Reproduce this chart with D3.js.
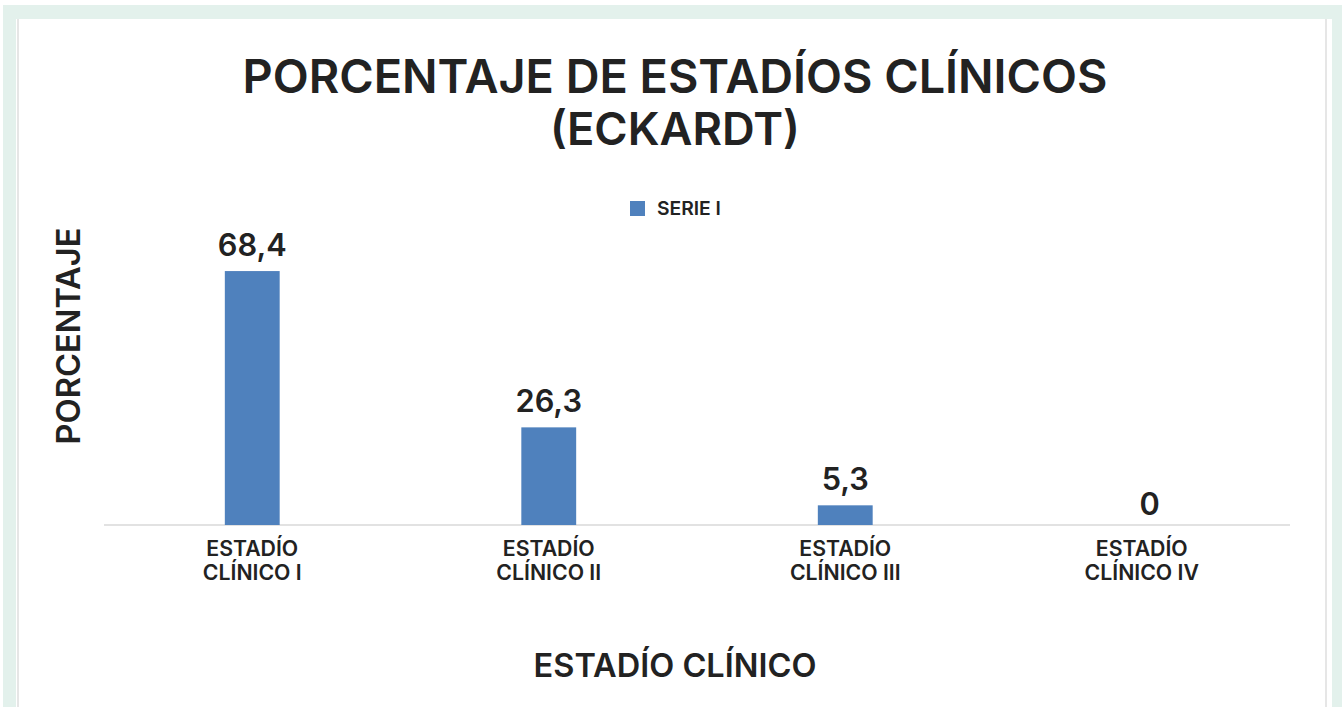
<!DOCTYPE html>
<html>
<head>
<meta charset="utf-8">
<script src="https://cdn.jsdelivr.net/npm/d3@7"></script>
<style>
  html, body { margin: 0; padding: 0; background: #fff; }
  svg { display: block; }
  text { font-family: "Inter", "DejaVu Sans", sans-serif; fill: #222; font-weight: 600; }
</style>
</head>
<body>
<svg id="chart" width="1342" height="707"></svg>
<script>
const categories = [["ESTADÍO", "CLÍNICO I"], ["ESTADÍO", "CLÍNICO II"], ["ESTADÍO", "CLÍNICO III"], ["ESTADÍO", "CLÍNICO IV"]];
const values = [68.4, 26.3, 5.3, 0];
const valueLabels = ["68,4", "26,3", "5,3", "0"];
const seriesName = "SERIE I";
const titleLines = ["PORCENTAJE DE ESTADÍOS CLÍNICOS", "(ECKARDT)"];
const xTitle = "ESTADÍO CLÍNICO";
const yTitle = "PORCENTAJE";

const svg = d3.select("#chart");
const W = 1342, H = 707;

// frame
svg.append("rect").attr("x", 3).attr("y", 5).attr("width", W - 3).attr("height", H).attr("fill", "#e3f1ec");
svg.append("rect").attr("x", 16).attr("y", 19).attr("width", 1316).attr("height", H).attr("fill", "#fff");
svg.append("rect").attr("x", 17).attr("y", 19).attr("width", 2).attr("height", H).attr("fill", "#e6e6e6");
svg.append("rect").attr("x", 1325).attr("y", 19).attr("width", 2).attr("height", H).attr("fill", "#e6e6e6");

const margin = { left: 104, right: 1290, top: 228, bottom: 525 };
const idx = categories.map((d, i) => i);
const x = d3.scaleBand().domain(idx).range([margin.left, margin.right]).paddingInner(0.815).paddingOuter(0.4075);
const y = d3.scaleLinear().domain([0, 80]).range([margin.bottom, margin.top]);

const fit = (sel, target) => {
  const node = sel.node();
  const w = node.getComputedTextLength();
  const fs = parseFloat(sel.attr("font-size"));
  sel.attr("font-size", fs * target / w);
};

// title
svg.append("text").attr("x", 675).attr("y", 93).attr("text-anchor", "middle")
  .attr("font-size", 48).text(titleLines[0]).call(fit, 865);
svg.append("text").attr("x", 675).attr("y", 145).attr("text-anchor", "middle")
  .attr("font-size", 48).text(titleLines[1]).call(fit, 250);

// legend
svg.append("rect").attr("x", 630).attr("y", 201).attr("width", 15).attr("height", 15).attr("fill", "#4f81bd");
svg.append("text").attr("x", 657).attr("y", 215).attr("font-size", 15).text(seriesName).call(fit, 64);

// axis line
const xAxis = d3.axisBottom(x).tickSize(0).tickFormat("");
const gx = svg.append("g").attr("transform", `translate(0,${margin.bottom})`).call(xAxis);
gx.select(".domain").attr("stroke", "#d9d9d9").attr("stroke-width", 1.5).attr("d", `M${margin.left},0H${margin.right}`);

// bars
svg.selectAll("rect.bar").data(values).join("rect").attr("class", "bar")
  .attr("x", (d, i) => x(i)).attr("width", x.bandwidth())
  .attr("y", d => y(d)).attr("height", d => y(0) - y(d)).attr("fill", "#4f81bd");

// value labels (common size derived from the first label)
const probe = svg.append("text").attr("font-size", 28).text(valueLabels[0]).call(fit, 69);
const valSize = probe.attr("font-size");
probe.remove();
svg.selectAll("text.val").data(values).join("text").attr("class", "val")
  .attr("x", (d, i) => x(i) + x.bandwidth() / 2 + (d === 0 ? 8 : 0))
  .attr("y", d => y(d) - (d === 0 ? 10 : 15))
  .attr("text-anchor", "middle").attr("font-size", valSize)
  .text((d, i) => valueLabels[i]);

// category labels
const probe2 = svg.append("text").attr("font-size", 18).text(categories[0][0]).call(fit, 92);
const catSize = probe2.attr("font-size");
probe2.remove();
categories.forEach((c, i) => {
  c.forEach((line, j) => {
    svg.append("text").attr("text-anchor", "middle").attr("font-size", catSize)
      .attr("x", x(i) + x.bandwidth() / 2).attr("y", 556 + j * 24).text(line);
  });
});

// axis titles
svg.append("text").attr("x", 675).attr("y", 677).attr("text-anchor", "middle")
  .attr("font-size", 28).text(xTitle).call(fit, 283);
svg.append("text").attr("transform", "translate(80,336) rotate(-90)").attr("text-anchor", "middle")
  .attr("font-size", 28).text(yTitle).call(fit, 217);
</script>
</body>
</html>
